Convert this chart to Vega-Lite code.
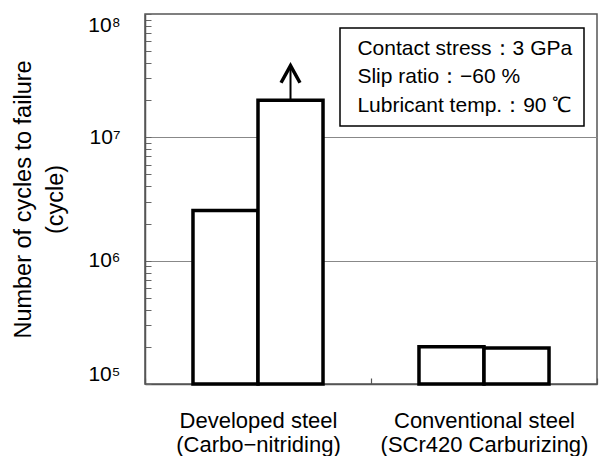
{
  "$schema": "https://vega.github.io/schema/vega-lite/v6.json",
  "width": 452,
  "height": 370,
  "autosize": "none",
  "padding": {"left": 145, "top": 14, "right": 5, "bottom": 72},
  "background": "white",
  "config": {
    "view": {"stroke": "#555", "strokeWidth": 1.5},
    "font": "Liberation Sans",
    "legend": {"strokeWidth": 1.5}
  },
  "data": {
    "values": [
      {"steel": "Developed steel|(Carbo−nitriding)", "specimen": "A", "cycles": 2550000, "runout": false},
      {"steel": "Developed steel|(Carbo−nitriding)", "specimen": "B", "cycles": 20000000, "runout": true},
      {"steel": "Conventional steel|(SCr420 Carburizing)", "specimen": "A", "cycles": 200000, "runout": false},
      {"steel": "Conventional steel|(SCr420 Carburizing)", "specimen": "B", "cycles": 196000, "runout": false}
    ]
  },
  "encoding": {
    "x": {
      "field": "steel", "type": "nominal", "sort": null,
      "scale": {"paddingInner": 0, "paddingOuter": 0},
      "axis": {
        "title": null, "labelExpr": "split(datum.label, '|')", "labelAngle": 0,
        "tickBand": "extent", "tickSize": -6, "tickColor": "#555", "tickWidth": 1.2,
        "domainColor": "#555", "domainWidth": 1.5,
        "labelFontSize": 22, "labelLineHeight": 24, "labelPadding": 32, "labelColor": "black",
        "labelBaseline": "top", "labelLimit": 400
      }
    },
    "xOffset": {"field": "specimen", "type": "nominal", "scale": {"paddingInner": 0, "paddingOuter": 0.738}}
  },
  "layer": [
    {
      "mark": {"type": "bar", "fill": "white", "stroke": "black", "strokeWidth": 3.5, "strokeJoin": "miter"},
      "encoding": {
        "y": {
          "field": "cycles", "type": "quantitative",
          "scale": {"type": "log", "domain": [100000, 100000000]},
          "axis": {
            "values": [100000, 200000, 300000, 400000, 500000, 600000, 700000, 800000, 900000,
                       1000000, 2000000, 3000000, 4000000, 5000000, 6000000, 7000000, 8000000, 9000000,
                       10000000, 20000000, 30000000, 40000000, 50000000, 60000000, 70000000, 80000000, 90000000, 100000000],
            "labelExpr": "datum.value == 100000 ? '10⁵' : datum.value == 1000000 ? '10⁶' : datum.value == 10000000 ? '10⁷' : datum.value == 100000000 ? '10⁸' : ''",
            "labelOverlap": false, "labelFlush": true,
            "labelFontSize": 21, "labelColor": "black", "labelPadding": 31,
            "tickSize": -6, "tickColor": "#666",
            "domainColor": "#555", "domainWidth": 1.5,
            "grid": true, "gridColor": "#888",
            "gridOpacity": {"condition": {"test": "datum.value == 1000000 || datum.value == 10000000", "value": 1}, "value": 0},
            "title": ["Number of cycles to failure", "(cycle)"],
            "titleFontSize": 23.5, "titleFontWeight": "normal", "titleColor": "black", "titleLineHeight": 32,
            "titlePadding": 20
          }
        },
        "y2": {"datum": 100000}
      }
    },
    {
      "transform": [{"filter": "datum.runout"}],
      "mark": {"type": "rule", "stroke": "black", "strokeWidth": 2},
      "encoding": {
        "y": {"field": "cycles", "type": "quantitative"},
        "y2": {"datum": 38000000}
      }
    },
    {
      "transform": [{"filter": "datum.runout"}],
      "mark": {"type": "point", "shape": "M-1,0.9L0,-0.9L1,0.9", "filled": false, "stroke": "black", "strokeWidth": 3.5, "size": 360, "opacity": 1},
      "encoding": {
        "y": {"datum": 32500000}
      }
    },
    {
      "data": {"values": [
        {"note": "Contact stress：3 GPa"},
        {"note": "Slip ratio：−60 %"},
        {"note": "Lubricant temp.：90 ℃"}
      ]},
      "mark": {"type": "point", "opacity": 0},
      "encoding": {
        "x": null,
        "xOffset": null,
        "color": {
          "field": "note", "type": "nominal",
          "scale": {"domain": ["Contact stress：3 GPa", "Slip ratio：−60 %", "Lubricant temp.：90 ℃"], "range": ["black", "black", "black"]},
          "legend": {
            "title": null, "orient": "none", "legendX": 195, "legendY": 14,
            "strokeColor": "black", "fillColor": "white", "padding": 10,
            "symbolSize": 0, "symbolOpacity": 0, "symbolStrokeWidth": 0,
            "labelExpr": "datum.label + '\u2005\u2009'",
            "labelFontSize": 21, "labelColor": "black", "labelOffset": -13.6, "rowPadding": 6.5, "labelLimit": 400
          }
        }
      }
    }
  ]
}
